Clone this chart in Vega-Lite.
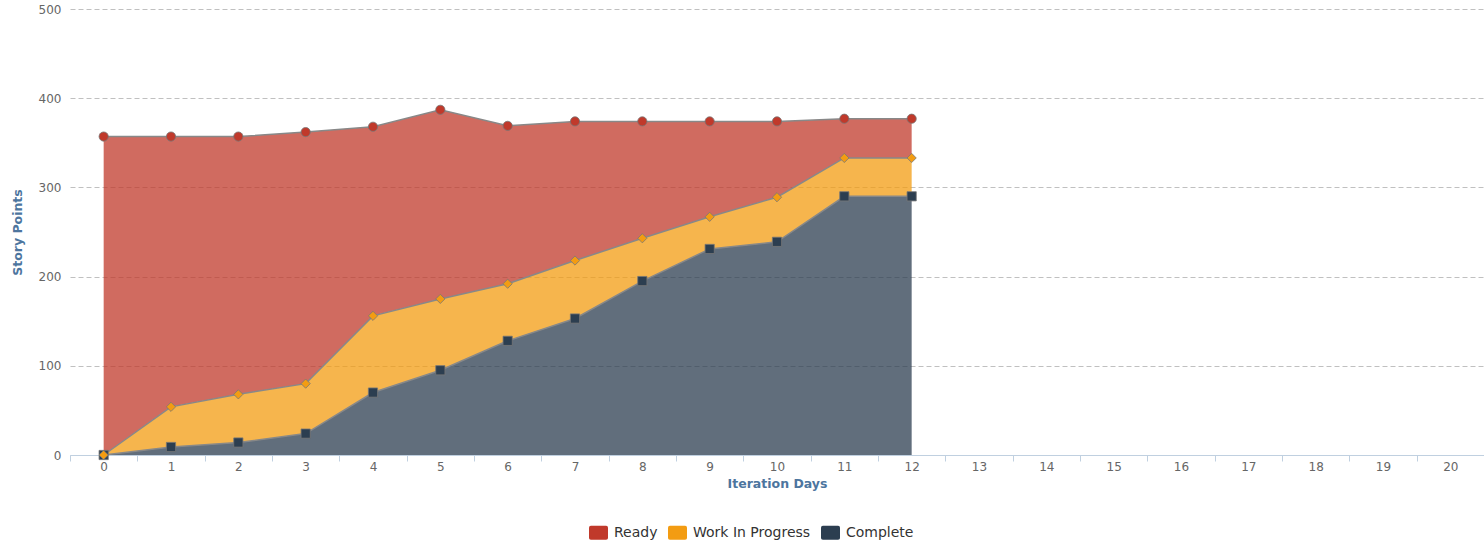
{
  "$schema": "https://vega.github.io/schema/vega-lite/v6.json",
  "width": 1414,
  "height": 446,
  "autosize": {"type": "none"},
  "padding": {"left": 70, "top": 9, "right": 0, "bottom": 89},
  "background": "white",
  "config": {
    "view": {"stroke": null},
    "font": "DejaVu Sans"
  },
  "data": {
    "values": [
      {"day": 0, "series": "Ready", "points": 357},
      {"day": 1, "series": "Ready", "points": 303},
      {"day": 2, "series": "Ready", "points": 289},
      {"day": 3, "series": "Ready", "points": 282},
      {"day": 4, "series": "Ready", "points": 212},
      {"day": 5, "series": "Ready", "points": 212},
      {"day": 6, "series": "Ready", "points": 177},
      {"day": 7, "series": "Ready", "points": 156},
      {"day": 8, "series": "Ready", "points": 131},
      {"day": 9, "series": "Ready", "points": 107},
      {"day": 10, "series": "Ready", "points": 85},
      {"day": 11, "series": "Ready", "points": 44},
      {"day": 12, "series": "Ready", "points": 44},
      {"day": 0, "series": "Work In Progress", "points": 0},
      {"day": 1, "series": "Work In Progress", "points": 45},
      {"day": 2, "series": "Work In Progress", "points": 54},
      {"day": 3, "series": "Work In Progress", "points": 56},
      {"day": 4, "series": "Work In Progress", "points": 86},
      {"day": 5, "series": "Work In Progress", "points": 80},
      {"day": 6, "series": "Work In Progress", "points": 64},
      {"day": 7, "series": "Work In Progress", "points": 65},
      {"day": 8, "series": "Work In Progress", "points": 48},
      {"day": 9, "series": "Work In Progress", "points": 36},
      {"day": 10, "series": "Work In Progress", "points": 50},
      {"day": 11, "series": "Work In Progress", "points": 43},
      {"day": 12, "series": "Work In Progress", "points": 43},
      {"day": 0, "series": "Complete", "points": 0},
      {"day": 1, "series": "Complete", "points": 9},
      {"day": 2, "series": "Complete", "points": 14},
      {"day": 3, "series": "Complete", "points": 24},
      {"day": 4, "series": "Complete", "points": 70},
      {"day": 5, "series": "Complete", "points": 95},
      {"day": 6, "series": "Complete", "points": 128},
      {"day": 7, "series": "Complete", "points": 153},
      {"day": 8, "series": "Complete", "points": 195},
      {"day": 9, "series": "Complete", "points": 231},
      {"day": 10, "series": "Complete", "points": 239},
      {"day": 11, "series": "Complete", "points": 290},
      {"day": 12, "series": "Complete", "points": 290}
    ]
  },
  "transform": [
    {"calculate": "datum.series === 'Complete' ? 0 : (datum.series === 'Work In Progress' ? 1 : 2)", "as": "stackOrder"},
    {"calculate": "datum.series", "as": "marker"},
    {"stack": "points", "groupby": ["day"], "sort": [{"field": "stackOrder", "order": "ascending"}], "as": ["y0", "y1"]}
  ],
  "encoding": {
    "x": {
      "field": "day",
      "type": "quantitative",
      "scale": {"domain": [-0.5, 20.5], "nice": false, "zero": false},
      "axis": {
        "values": [-0.5, 0.5, 1.5, 2.5, 3.5, 4.5, 5.5, 6.5, 7.5, 8.5, 9.5, 10.5, 11.5, 12.5, 13.5, 14.5, 15.5, 16.5, 17.5, 18.5, 19.5, 20.5],
        "labelExpr": "datum.value < 20 ? toString(datum.value + 0.5) : ''",
        "labelOffset": 33.67,
        "labelOverlap": false,
        "labelFlush": false,
        "labelBound": false,
        "labelColor": "#666666",
        "labelFontSize": 12,
        "labelPadding": 0,
        "grid": false,
        "domainColor": "#c0d0e0",
        "domainWidth": 1,
        "tickColor": "#c0d0e0",
        "tickSize": 6,
        "title": "Iteration Days",
        "titleColor": "#4d759e",
        "titleFontSize": 12.5,
        "titleFontWeight": "bold",
        "titlePadding": 5
      }
    },
    "y": {
      "field": "y1",
      "type": "quantitative",
      "scale": {"domain": [0, 500], "nice": false},
      "axis": {
        "values": [0, 100, 200, 300, 400, 500],
        "grid": true,
        "gridColor": "#c0c0c0",
        "gridDash": [5, 3],
        "gridWidth": 1,
        "domain": false,
        "ticks": false,
        "labelColor": "#666666",
        "labelFontSize": 12,
        "labelPadding": 9,
        "title": "Story Points",
        "titleColor": "#4d759e",
        "titleFontSize": 12.5,
        "titleFontWeight": "bold",
        "titlePadding": 14
      }
    }
  },
  "layer": [
    {
      "mark": {"type": "area", "fillOpacity": 0.75},
      "encoding": {
        "y2": {"field": "y0"},
        "detail": {"field": "series", "type": "nominal"},
        "color": {
          "field": "series",
          "type": "nominal",
          "scale": {
            "domain": ["Ready", "Work In Progress", "Complete"],
            "range": ["#c0392b", "#f39c12", "#2c3e50"]
          },
          "legend": {
            "title": null,
            "orient": "none",
            "direction": "horizontal",
            "legendX": 519,
            "legendY": 514,
            "symbolType": "M-1,-0.55 Q-1,-0.74 -0.8,-0.74 L0.8,-0.74 Q1,-0.74 1,-0.55 L1,0.55 Q1,0.74 0.8,0.74 L-0.8,0.74 Q-1,0.74 -1,0.55 Z",
            "symbolSize": 361,
            "symbolStrokeWidth": 0,
            "symbolOpacity": 1,
            "labelFontSize": 14,
            "labelColor": "#333333",
            "labelOffset": 6,
            "columnPadding": 10,
            "padding": 0
          }
        }
      }
    },
    {
      "mark": {"type": "line", "strokeWidth": 1.5, "color": "#888888"},
      "encoding": {
        "detail": {"field": "series", "type": "nominal"}
      }
    },
    {
      "mark": {"type": "point", "filled": true, "opacity": 1, "stroke": "#777777", "strokeWidth": 0.8, "size": 85},
      "encoding": {
        "order": {"field": "stackOrder", "type": "quantitative", "sort": "ascending"},
        "color": {
          "field": "marker",
          "type": "nominal",
          "scale": {
            "domain": ["Ready", "Work In Progress", "Complete"],
            "range": ["#c0392b", "#f39c12", "#2c3e50"]
          },
          "legend": null
        },
        "shape": {
          "field": "marker",
          "type": "nominal",
          "scale": {"domain": ["Ready", "Work In Progress", "Complete"], "range": ["circle", "diamond", "square"]},
          "legend": null
        }
      }
    }
  ],
  "resolve": {
    "scale": {"color": "independent", "shape": "independent"},
    "legend": {"color": "independent", "shape": "independent"}
  }
}
